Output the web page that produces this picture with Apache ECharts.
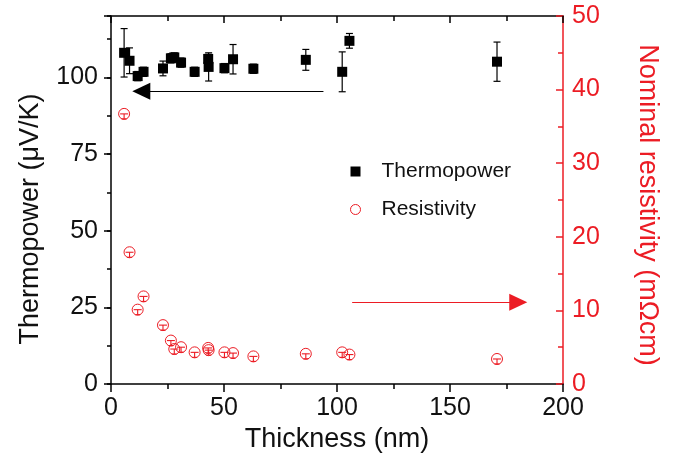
<!DOCTYPE html>
<html>
<head>
<meta charset="utf-8">
<script src="https://cdn.jsdelivr.net/npm/echarts@6/dist/echarts.min.js"></script>
<style>html,body{margin:0;padding:0;background:#fff}#c{width:674px;height:460px}</style>
</head>
<body>
<div id="c"></div>
<script>
// ---- data ----
var thickness   = [5.8, 8.2, 11.8, 14.4, 23, 26.5, 28, 31, 37, 43, 43.2, 50.2, 54, 63, 86.2, 102.3, 105.5, 170.8];
var thermopower = [108.0, 105.4, 100.4, 101.8, 102.9, 106.2, 106.5, 104.8, 101.8, 106.0, 103.4, 103.0, 105.9, 102.8, 105.7, 101.8, 111.9, 105.1];
var thermoErr   = [7.9, 4.2, 1.5, 1.5, 2.4, 1.5, 1.5, 1.5, 1.5, 1.5, 4.6, 1.5, 4.8, 1.5, 3.4, 6.5, 2.4, 6.4];
var resistivity = [36.7, 17.9, 10.1, 11.9, 8.0, 5.9, 4.75, 5.0, 4.3, 4.9, 4.6, 4.3, 4.2, 3.75, 4.1, 4.3, 4.0, 3.4];
var xTicks = [0, 50, 100, 150, 200];
var leftTicks = [0, 25, 50, 75, 100];
var rightTicks = [0, 10, 20, 30, 40, 50];
// arrow annotations (data coordinates)
var arrowLeft  = {from: [94, 95.5], to: [13.4, 95.5]};
var arrowRight = {from: [106.7, 11.1], to: [180.2, 11.1]};

var RED = '#ec1c24';
var FONT = "'Liberation Sans', Arial, Helvetica, sans-serif";

var thermoData = thickness.map(function (x, i) { return [x, thermopower[i]]; });
var thermoErrData = thickness.map(function (x, i) { return [x, thermopower[i], thermoErr[i]]; });
var rhoData = thickness.map(function (x, i) { return [x, resistivity[i]]; });

var chart = echarts.init(document.getElementById('c'), null, {renderer: 'canvas'});

function errRender(params, api) {
  var x = api.value(0), y = api.value(1), e = api.value(2);
  var t = api.coord([x, y + e]), b = api.coord([x, y - e]);
  var w = 3.5, st = {stroke: '#000', lineWidth: 1.2};
  return {type: 'group', children: [
    {type: 'line', shape: {x1: t[0], y1: t[1], x2: b[0], y2: b[1]}, style: st},
    {type: 'line', shape: {x1: t[0] - w, y1: t[1], x2: t[0] + w, y2: t[1]}, style: st},
    {type: 'line', shape: {x1: b[0] - w, y1: b[1], x2: b[0] + w, y2: b[1]}, style: st}
  ]};
}
function tRender(params, api) {
  var p = api.coord([api.value(0), api.value(1)]);
  var st = {stroke: RED, lineWidth: 1.1};
  return {type: 'group', children: [
    {type: 'line', shape: {x1: p[0] - 4, y1: p[1], x2: p[0] + 4, y2: p[1]}, style: st},
    {type: 'line', shape: {x1: p[0], y1: p[1], x2: p[0], y2: p[1] + 5}, style: st},
    {type: 'line', shape: {x1: p[0] - 2.5, y1: p[1] + 5, x2: p[0] + 2.5, y2: p[1] + 5}, style: st}
  ]};
}

var G = {left: 111, right: 111, top: 16, bottom: 76, containLabel: false};

var option = {
  animation: false,
  backgroundColor: '#fff',
  textStyle: {fontFamily: FONT},
  grid: [G, Object.assign({}, G)],
  legend: {
    orient: 'vertical', left: 345, top: 156, itemGap: 17,
    itemWidth: 10, itemHeight: 10,
    textStyle: {fontSize: 21, color: '#111', fontFamily: FONT, padding: [0, 0, 0, 16]},
    data: [
      {name: 'Thermopower', icon: 'rect', itemStyle: {color: '#000', borderWidth: 0}},
      {name: 'Resistivity', icon: 'circle', itemStyle: {color: '#fff', borderColor: RED, borderWidth: 1}}
    ]
  },
  xAxis: [{
    gridIndex: 0, type: 'value', position: 'bottom', min: xTicks[0], max: xTicks[xTicks.length - 1], interval: xTicks[1] - xTicks[0],
    name: 'Thickness (nm)', nameLocation: 'middle', nameGap: 42,
    nameTextStyle: {fontSize: 27, color: '#111', fontFamily: FONT},
    axisLine: {show: true, onZero: false, lineStyle: {color: '#000', width: 1.5}},
    axisTick: {show: true, inside: false, length: 8, lineStyle: {color: '#000', width: 1.5}},
    minorTick: {show: true, splitNumber: 2, length: 5, lineStyle: {color: '#000', width: 1.5}},
    axisLabel: {fontSize: 25, color: '#111', margin: 12, fontFamily: FONT},
    splitLine: {show: false}
  }, {
    gridIndex: 0, type: 'value', position: 'top', min: xTicks[0], max: xTicks[xTicks.length - 1], interval: xTicks[1] - xTicks[0],
    axisLine: {show: true, onZero: false, lineStyle: {color: '#000', width: 1.5}},
    axisTick: {show: true, inside: true, length: 7, lineStyle: {color: '#000', width: 1.5}},
    minorTick: {show: true, splitNumber: 2, length: 5, lineStyle: {color: '#000', width: 1.5}},
    axisLabel: {show: false},
    splitLine: {show: false}
  }, {
    gridIndex: 1, type: 'value', position: 'bottom', min: xTicks[0], max: xTicks[xTicks.length - 1],
    axisLine: {show: false, onZero: false}, axisTick: {show: false}, axisLabel: {show: false}, splitLine: {show: false}
  }],
  yAxis: [{
    gridIndex: 0, type: 'value', position: 'left', min: 0, max: 120, interval: leftTicks[1] - leftTicks[0],
    name: 'Thermopower (\u03bcV/K)', nameLocation: 'middle', nameGap: 67,
    nameTextStyle: {fontSize: 27, color: '#111', fontFamily: FONT, padding: [0, 38, 0, 0]},
    axisLine: {show: true, onZero: false, lineStyle: {color: '#000', width: 1.5}},
    axisTick: {show: true, inside: false, length: 7, lineStyle: {color: '#000', width: 1.5}},
    axisLabel: {fontSize: 25, color: '#111', margin: 13, fontFamily: FONT,
      formatter: function (v) { return leftTicks.indexOf(v) >= 0 ? String(v) : ''; }},
    splitLine: {show: false}
  }, {
    gridIndex: 0, type: 'value', position: 'right', min: rightTicks[0], max: rightTicks[rightTicks.length - 1], interval: rightTicks[1] - rightTicks[0],
    name: 'Nominal resistivity (m\u03a9cm)', nameLocation: 'middle', nameGap: 71, nameRotate: -90,
    nameTextStyle: {fontSize: 27, color: RED, fontFamily: FONT, padding: [0, 0, 0, 10]},
    axisLine: {show: true, onZero: false, lineStyle: {color: RED, width: 1.5}},
    axisTick: {show: true, inside: true, length: 7, lineStyle: {color: RED, width: 1.5}},
    minorTick: {show: true, splitNumber: 2, length: 5, lineStyle: {color: RED, width: 1.5}},
    axisLabel: {fontSize: 25, color: RED, margin: 9, fontFamily: FONT},
    splitLine: {show: false}
  }, {
    gridIndex: 1, type: 'value', position: 'left', min: 0, max: 120, interval: 12.5,
    axisLine: {show: false, onZero: false},
    axisTick: {show: true, inside: false, length: 4, lineStyle: {color: '#000', width: 1.5}},
    axisLabel: {show: false},
    splitLine: {show: false}
  }],
  series: [{
    name: 'ThermoErr', type: 'custom', xAxisIndex: 0, yAxisIndex: 0,
    renderItem: errRender, data: thermoErrData, encode: {x: 0, y: [1, 2]}, z: 3, silent: true
  }, {
    name: 'Thermopower', type: 'scatter', xAxisIndex: 0, yAxisIndex: 0,
    symbol: 'rect', symbolSize: 10, itemStyle: {color: '#000', opacity: 1},
    data: thermoData, z: 4,
    markLine: {
      silent: true, symbol: ['none', 'triangle'], symbolSize: [17, 18],
      label: {show: false},
      lineStyle: {color: '#000', width: 1.2, type: 'solid'},
      data: [[{coord: arrowLeft.from}, {coord: arrowLeft.to}]]
    }
  }, {
    name: 'Resistivity', type: 'scatter', xAxisIndex: 0, yAxisIndex: 1,
    symbol: 'circle', symbolSize: 11,
    itemStyle: {color: 'rgba(255,255,255,0)', borderColor: RED, borderWidth: 1, opacity: 1},
    data: rhoData, z: 4,
    markLine: {
      silent: true, symbol: ['none', 'triangle'], symbolSize: [17, 18],
      label: {show: false},
      lineStyle: {color: RED, width: 1.2, type: 'solid'},
      data: [[{coord: arrowRight.from}, {coord: arrowRight.to}]]
    }
  }, {
    name: 'RhoT', type: 'custom', xAxisIndex: 0, yAxisIndex: 1,
    renderItem: tRender, data: rhoData, encode: {x: 0, y: 1}, z: 5, silent: true
  }]
};
chart.setOption(option);
</script>
</body>
</html>
